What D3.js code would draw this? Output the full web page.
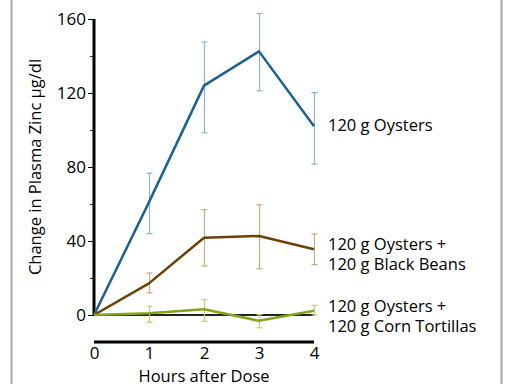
<!DOCTYPE html>
<html>
<head>
<meta charset="utf-8">
<script src="https://cdn.jsdelivr.net/npm/d3@7"></script>
<style>
  body { margin: 0; background: #fff; }
  svg { display: block; font-family: "Open Sans", "Noto Sans", sans-serif; }
</style>
</head>
<body>
<svg id="chart" width="512" height="384"></svg>
<script>
var hours = [0, 1, 2, 3, 4];
var yTicks = [0, 40, 80, 120, 160];
var yMinorTicks = [20, 60, 100, 140];

var oysters      = [0, 61, 124, 142.5, 102];
var oystersHi    = [0, 76.6, 147.6, 163, 120.2];
var oystersLo    = [0, 44, 98.5, 121.2, 81.6];

var beans        = [0, 17.1, 41.8, 42.7, 35.5];
var beansHi      = [0, 22.7, 56.9, 59.6, 43.8];
var beansLo      = [0, 12, 26.5, 25, 27.2];

var tortillas    = [0, 0.9, 3.1, -3.1, 2.3];
var tortillasHi  = [0, 4.7, 8.3, 0.2, 5.2];
var tortillasLo  = [0, -3.9, -3.4, -6.9, 0];

var seriesLabels = [
    ["120 g Oysters"],
    ["120 g Oysters +", "120 g Black Beans"],
    ["120 g Oysters +", "120 g Corn Tortillas"]
];

var series = [
    {vals: oysters, hi: oystersHi, lo: oystersLo, color: "#1c6190", err: "#8db1cf", label: seriesLabels[0], labelY: 125},
    {vals: beans, hi: beansHi, lo: beansLo, color: "#6b4103", err: "#c8aa85", label: seriesLabels[1], labelY: 254},
    {vals: tortillas, hi: tortillasHi, lo: tortillasLo, color: "#84a51a", err: "#b9d07a", label: seriesLabels[2], labelY: 316}
];

var fontSize = 16.5;
var svg = d3.select("#chart");

// grey frame
svg.append("line").attr("x1", 11.5).attr("x2", 11.5).attr("y1", 0).attr("y2", 384)
    .attr("stroke", "#a8a8a8").attr("stroke-width", 2);
svg.append("line").attr("x1", 501.5).attr("x2", 501.5).attr("y1", 0).attr("y2", 384)
    .attr("stroke", "#a8a8a8").attr("stroke-width", 2);

var xScale = d3.scaleLinear().domain([0, 4]).range([94, 314]);
var yScale = d3.scaleLinear().domain([0, 160]).range([315, 19]);

// y axis
var yAxis = svg.append("g").attr("transform", "translate(94,0)")
    .call(d3.axisLeft(yScale).tickValues(yTicks).tickSize(6).tickPadding(2));
yAxis.select(".domain").attr("stroke", "#000").attr("stroke-width", 3)
    .attr("d", "M0," + yScale(160) + "V" + yScale(0));
yAxis.selectAll(".tick line").attr("stroke", "#000").attr("stroke-width", 1);
yAxis.selectAll(".tick text").attr("font-size", 17).attr("fill", "#000")
    .attr("font-family", "Open Sans, Noto Sans, sans-serif");

svg.append("g").selectAll("line").data(yMinorTicks).enter().append("line")
    .attr("x1", 90).attr("x2", 94)
    .attr("y1", function (d) { return yScale(d) + 0.5; })
    .attr("y2", function (d) { return yScale(d) + 0.5; })
    .attr("stroke", "#000").attr("stroke-width", 0.8);

// x axis (detached)
var xAxis = svg.append("g").attr("transform", "translate(0,342)")
    .call(d3.axisBottom(xScale).tickValues(hours).tickFormat(d3.format("d")).tickSize(0).tickPadding(5));
xAxis.select(".domain").attr("stroke", "#000").attr("stroke-width", 3)
    .attr("d", "M" + xScale(0) + ",0H" + xScale(4));
xAxis.selectAll(".tick text").attr("font-size", 17).attr("fill", "#000")
    .attr("font-family", "Open Sans, Noto Sans, sans-serif");

svg.append("text").attr("x", xScale(2)).attr("y", 382)
    .attr("text-anchor", "middle").attr("font-size", fontSize).text("Hours after Dose");

svg.append("text")
    .attr("transform", "translate(41," + yScale(80) + ") rotate(-90)")
    .attr("text-anchor", "middle").attr("font-size", fontSize)
    .text("Change in Plasma Zinc \u03bcg/dl");

// zero line
svg.append("line").attr("x1", xScale(0)).attr("x2", xScale(4))
    .attr("y1", yScale(0)).attr("y2", yScale(0))
    .attr("stroke", "#222").attr("stroke-width", 2);

var line = d3.line()
    .x(function (d, i) { return xScale(hours[i]); })
    .y(function (d) { return yScale(d); });

series.forEach(function (s) {
    var g = svg.append("g");
    hours.forEach(function (h, i) {
        if (i == 0) return;
        var x = xScale(h) + 0.5;
        g.append("line").attr("x1", x).attr("x2", x)
            .attr("y1", yScale(s.hi[i])).attr("y2", yScale(s.lo[i]))
            .attr("stroke", s.err).attr("stroke-width", 1.2);
        [s.hi[i], s.lo[i]].forEach(function (v) {
            g.append("line").attr("x1", x - 3).attr("x2", x + 3)
                .attr("y1", yScale(v)).attr("y2", yScale(v))
                .attr("stroke", s.err).attr("stroke-width", 1.2);
        });
    });
    g.append("path").datum(s.vals).attr("d", line)
        .attr("fill", "none").attr("stroke", s.color).attr("stroke-width", 2.5)
        .attr("stroke-linejoin", "round");

    var n = s.label.length;
    s.label.forEach(function (l, j) {
        svg.append("text").attr("x", 328)
            .attr("y", s.labelY + 6 + (j - (n - 1) / 2) * 20)
            .attr("font-size", fontSize).attr("fill", "#000")
            .text(l);
    });
});
</script>
</body>
</html>
